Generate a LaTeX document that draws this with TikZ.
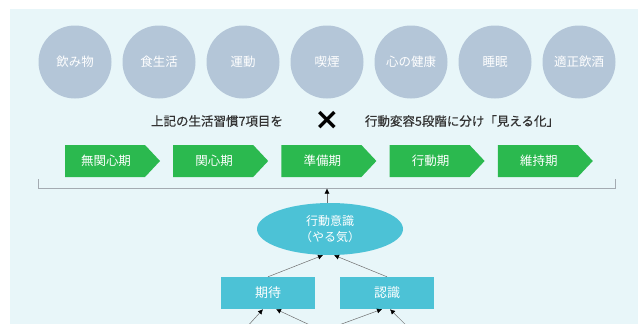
\documentclass[tikz,border=0pt]{standalone}
\usepackage{fontspec}
\setmainfont{Noto Sans CJK JP}
\newfontfamily\jpmed[FakeBold=0.6]{Noto Sans CJK JP}
\newfontfamily\symfont{DejaVu Sans}
\usetikzlibrary{shapes.geometric,arrows.meta}
\definecolor{panel}{HTML}{E8F6F9}
\definecolor{circ}{HTML}{B4C6D8}
\definecolor{stagegreen}{HTML}{2BB94F}
\definecolor{cyanbox}{HTML}{4CC2D6}
\definecolor{brk}{HTML}{A4ABB2}
\definecolor{darktext}{HTML}{333333}
\definecolor{linegray}{HTML}{6E6E6E}
\tikzset{
  habit/.style={circle,fill=circ,minimum size=73pt,inner sep=0pt,text=white,font=\fontsize{12.5}{14}\selectfont},
  stagetext/.style={text=white,font=\fontsize{12.5}{14}\selectfont},
  stagefill/.style={fill=stagegreen},
  lead/.style={text=darktext,font=\jpmed\fontsize{12.5}{14}\selectfont},
  cbox/.style={rectangle,fill=cyanbox,minimum width=94pt,minimum height=32pt,inner sep=0pt,text=white,font=\fontsize{13}{15}\selectfont},
  conn/.style={draw=linegray,line width=0.5pt,-{Latex[length=5pt,width=5pt,black]}},
}
\begin{document}
\begin{tikzpicture}[x=1pt,y=-1pt]
\useasboundingbox (0,0) rectangle (638,324);
\clip (0,0) rectangle (638,324);
\fill[white] (0,0) rectangle (638,324);
\fill[panel] (10,9) rectangle (638,330);
% habit circles
\foreach \i/\t in {0/飲み物,1/食生活,2/運動,3/喫煙,4/心の健康,5/睡眠,6/適正飲酒}{
  \node[habit] (h\i) at (75+84*\i,62) {\t};
}
% lead texts
\node[lead] (l1) at (217,121) {上記の生活習慣7項目を};
\node[text=black,font=\symfont\bfseries\fontsize{30}{30}\selectfont,inner sep=0pt] (x) at (327,120) {×};
\node[lead] (l2) at (462,121) {行動変容5段階に分け「見える化」};
% stages
\foreach \i/\t in {0/無関心期,1/関心期,2/準備期,3/行動期,4/維持期}{
  \pgfmathsetmacro{\sx}{65+108.2*\i}
  \fill[stagefill] (\sx,145) -- ++(80,0) -- ++(15,16) -- ++(-15,16) -- ++(-80,0) -- cycle;
  \node[stagetext] (s\i) at (\sx+41,161) {\t};
}
% bracket
\draw[brk,line width=0.8pt] (38,179) -- (38,188) -- (615,188) -- (615,179);
\coordinate (bk) at (327,188.5);
% ellipse
\node[ellipse,fill=cyanbox,minimum width=146pt,minimum height=52pt,inner sep=0pt,text=white,align=center,font=\fontsize{12}{16}\selectfont] (e) at (330,229) {行動意識\\（やる気）};
\draw[conn] (e.north -| bk) -- (bk);
% boxes
\node[cbox] (k) at (268,293) {期待};
\node[cbox] (n) at (387,293) {認識};
\draw[conn] (k.north) -- ([xshift=-7pt]e.south);
\draw[conn] (n.north) -- ([xshift=4pt]e.south);
% lines from below (cut off)
\coordinate (b1) at (235,340);
\coordinate (b2) at (342,340);
\coordinate (b3) at (298,340);
\coordinate (b4) at (421,340);
\draw[conn] (b1) -- ([xshift=-5pt]k.south);
\draw[conn] (b2) -- ([xshift=8pt]k.south);
\draw[conn] (b3) -- ([xshift=-5pt]n.south);
\draw[conn] (b4) -- ([xshift=3pt]n.south);
\end{tikzpicture}
\end{document}
